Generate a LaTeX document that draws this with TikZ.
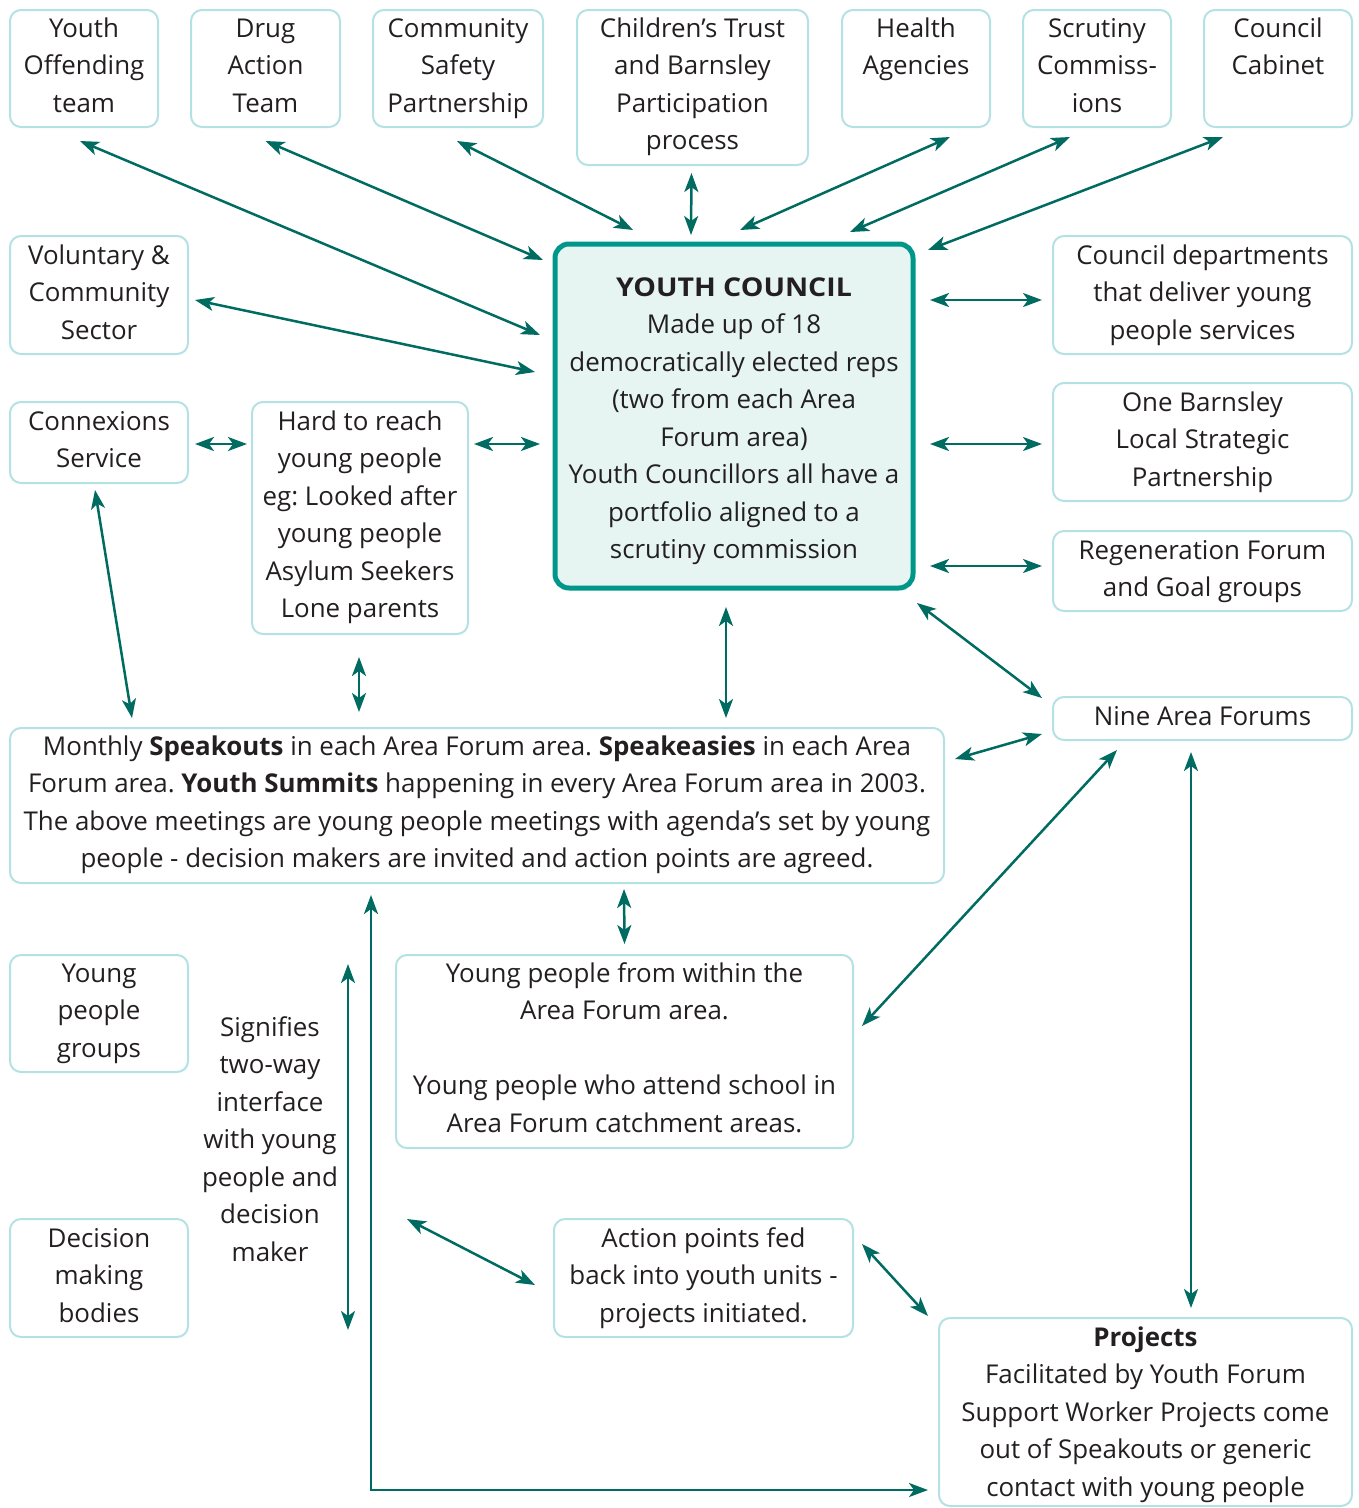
\documentclass[tikz,border=0pt]{standalone}
\usepackage{fontspec}
\setmainfont{Open Sans}
\usetikzlibrary{arrows.meta,calc}
\definecolor{boxc}{HTML}{B4E1E3}
\definecolor{arr}{HTML}{006B60}
\definecolor{ycb}{HTML}{00978B}
\definecolor{ycf}{HTML}{E6F5F2}
\definecolor{txt}{HTML}{231F20}
\newcommand\mybox[6][]{\node[box,#1,anchor=north west,minimum width={#5pt-#3pt},minimum height={#6pt-#4pt}] (#2) at (#3,#4) {};}
\frenchspacing
\begin{document}
\begin{tikzpicture}[x=1pt,y=-1pt,
 box/.style={draw=boxc, line width=2pt, rounded corners=11pt, outer sep=0pt, inner sep=0pt},
 tx/.style={anchor=north, inner sep=0pt, align=center, text=txt, font=\fontsize{25.9}{37.5}\selectfont},
 link/.style={draw=arr, line width=2.5pt, {Stealth[length=19pt,width=14pt,inset=5pt]}-{Stealth[length=19pt,width=14pt,inset=5pt]}},
]
\useasboundingbox (0,0) rectangle (1359,1508);
% boxes
\mybox{yo}{10}{10}{158}{127}
\mybox{dat}{191}{10}{340}{127}
\mybox{csp}{373}{10}{543}{127}
\mybox{ct}{577}{10}{808}{165}
\mybox{ha}{842}{10}{990}{127}
\mybox{sc}{1023}{10}{1171}{127}
\mybox{cc}{1204}{10}{1352}{127}
\mybox{vcs}{10}{236}{188}{354}
\mybox[draw=ycb,fill=ycf,line width=5pt,rounded corners=14pt]{yc}{555}{244}{913}{588}
\mybox{cd}{1053}{236}{1352}{354}
\mybox{cx}{10}{402}{188}{483}
\mybox{hr}{252}{402}{468}{634}
\mybox{ob}{1053}{383}{1352}{501}
\mybox{rf}{1053}{531}{1352}{611}
\mybox{naf}{1053}{697}{1352}{740}
\mybox{sp}{10}{728}{944}{883}
\mybox{ypg}{10}{955}{188}{1072}
\mybox{yp}{396}{955}{853}{1148}
\mybox{dmb}{10}{1219}{188}{1337}
\mybox{ap}{554}{1219}{853}{1337}
\mybox{pr}{939}{1318}{1352}{1506}
% texts
\node[tx] (yot) at (yo.north|-0,11) {\strut Youth\\Offending\\team};
\node[tx] (datt) at (dat.north|-0,11) {\strut Drug\\Action\\Team};
\node[tx] (cspt) at (csp.north|-0,11) {\strut Community\\Safety\\Partnership};
\node[tx] (ctt) at (ct.north|-0,11) {\strut Children’s Trust\\and Barnsley\\Participation\\process};
\node[tx] (hat) at (ha.north|-0,11) {\strut Health\\Agencies};
\node[tx] (sct) at (sc.north|-0,11) {\strut Scrutiny\\Commiss-\\ions};
\node[tx] (cct) at (cc.north|-0,11) {\strut Council\\Cabinet};
\node[tx] (vcst) at (vcs.north|-0,238) {\strut Voluntary \&\\Community\\Sector};
\node[tx] (yct) at (yc.north|-0,270) {\strut\scalebox{1.1}[1]{\bfseries YOUTH COUNCIL}\\Made up of 18\\democratically elected reps\\(two from each Area\\Forum area)\\Youth Councillors all have a\\portfolio aligned to a\\scrutiny commission};
\node[tx] (cdt) at (cd.north|-0,238) {\strut Council departments\\that deliver young\\people services};
\node[tx] (cxt) at (cx.north|-0,404) {\strut Connexions\\Service};
\node[tx] (hrt) at (hr.north|-0,404) {\strut Hard to reach\\young people\\eg: Looked after\\young people\\Asylum Seekers\\Lone parents};
\node[tx] (obt) at (ob.north|-0,385) {\strut One Barnsley\\Local Strategic\\Partnership};
\node[tx] (rft) at (rf.north|-0,533) {\strut Regeneration Forum\\and Goal groups};
\node[tx] (naft) at (naf.north|-0,699) {\strut Nine Area Forums};
\node[tx] (spt) at (sp.north|-0,729) {\strut Monthly \textbf{Speakouts} in each Area Forum area. \textbf{Speakeasies} in each Area\\Forum area. \textbf{Youth Summits} happening in every Area Forum area in 2003.\\The above meetings are young people meetings with agenda’s set by young\\people - decision makers are invited and action points are agreed.};
\node[tx] (ypgt) at (ypg.north|-0,956) {\strut Young\\people\\groups};
\node[tx] (ypt) at (yp.north|-0,956) {\strut Young people from within the\\Area Forum area.\\[37.5pt]Young people who attend school in\\Area Forum catchment areas.};
\node[tx] (dmbt) at (dmb.north|-0,1221) {\strut Decision\\making\\bodies};
\node[tx] (apt) at (ap.north|-0,1221) {\strut Action points fed\\back into youth units -\\projects initiated.};
\node[tx] (prt) at (pr.north|-0,1320) {\strut\textbf{Projects}\\Facilitated by Youth Forum\\Support Worker Projects come\\out of Speakouts or generic\\contact with young people};
\node[tx] (sig) at (270,1010) {\strut Signifies\\two-way\\interface\\with young\\people and\\decision\\maker};
% connectors
\draw[link] ($(yo.south)+(-4,14)$) -- ($(yc.north west)+(-15,91)$);
\draw[link] ($(dat.south)+(0,14)$) -- ($(yc.north west)+(-12,16)$);
\draw[link] ($(csp.south)+(-1,14)$) -- ($(yc.north west)+(78,-14)$);
\draw[link] ($(ct.south)+(-1,8)$) -- ($(yc.north)+(-43,-9)$);
\draw[link] ($(ha.south)+(34,10)$) -- ($(yc.north)+(6,-14)$);
\draw[link] ($(sc.south)+(-27,10)$) -- ($(yc.north)+(116,-12)$);
\draw[link] ($(cc.south)+(-55,10)$) -- ($(yc.north east)+(15,6)$);
\draw[link] ($(vcs.east)+(7,5)$) -- ($(yc.west)+(-20,-44)$);
\draw[link] ($(yc.east)+(17,-116)$) -- ($(cd.west)+(-11,5)$);
\draw[link] ($(yc.east)+(17,28)$) -- ($(ob.west)+(-11,2)$);
\draw[link] ($(yc.east)+(17,150)$) -- ($(rf.west)+(-11,-5)$);
\draw[link] ($(cx.east)+(7,1.5)$) -- ($(hr.west)+(-5,-74)$);
\draw[link] ($(hr.east)+(6,-74)$) -- ($(yc.west)+(-15,28)$);
\draw[link] ($(cx.south)+(-4,7)$) -- ($(sp.north west)+(122,-10)$);
\draw[link] ($(hr.south)+(-1,23)$) -- ($(sp.north west)+(349,-16)$);
\draw[link] ($(yc.south)+(-8,19)$) -- ($(sp.north west)+(716,-10)$);
\draw[link] ($(yc.south east)+(4,15)$) -- ($(naf.north west)+(-11,1)$);
\draw[link] ($(sp.north east)+(11,31)$) -- ($(naf.west)+(-11,15.5)$);
\draw[link] ($(naf.south)+(-85.5,10)$) -- ($(yp.east)+(9,-25.5)$);
\draw[link] ($(naf.south)+(-11.5,12)$) -- ($(pr.north)+(45.5,-10)$);
\draw[link] ($(sp.south)+(147,6)$) -- ($(yp.north)+(0,-11)$);
\draw[link] ($(ap.east)+(9,-34)$) -- ($(pr.north west)+(-11,-2)$);
\draw[link] ($(sp.south west)+(361,12)$) |- ($(pr.west)+(-11,78)$);
\coordinate (l1) at (348,964);
\coordinate (l2) at (348,1330);
\coordinate (l3) at (407,1219);
\draw[link] (l1) -- (l2);
\draw[link] (l3) -- ($(ap.west)+(-19,7)$);
\end{tikzpicture}
\end{document}
